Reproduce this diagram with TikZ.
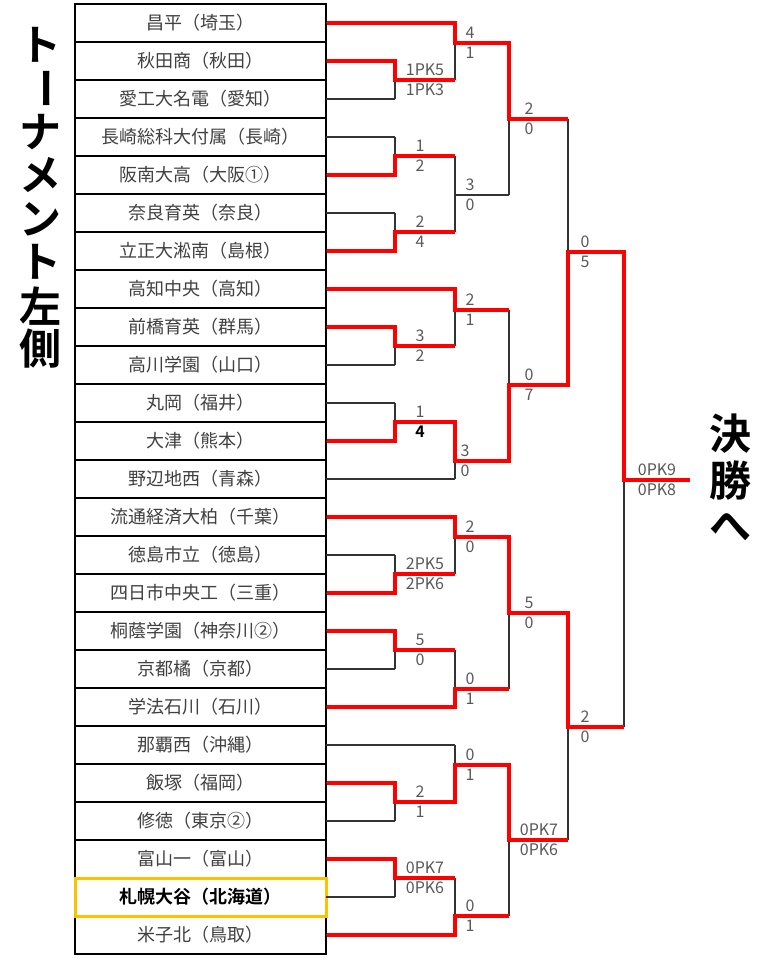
\documentclass[tikz,border=0pt]{standalone}
\usepackage{fontspec}
\setmainfont{Noto Sans CJK JP}
\newfontfamily\jpbold{Noto Sans CJK JP Bold}
\definecolor{hiorange}{HTML}{FFC000}
\begin{document}
\begin{tikzpicture}[x=1pt,y=-1pt,
  team/.style={draw=black,line width=1.3pt,minimum width=251pt,minimum height=38pt,inner sep=0pt,text=black!75,font=\fontsize{18}{20}\selectfont},
  hilite/.style={draw=hiorange,line width=3pt,font=\jpbold\fontsize{18}{20}\selectfont,text=black},
  skel/.style={line width=1.2pt,black!80},
  win/.style={line width=3.6pt,red,line join=miter},
  sc/.style={inner sep=0pt,text=black!65,font=\fontsize{16}{18}\selectfont},
  ttl/.style={inner sep=0pt,font=\jpbold\fontsize{42}{44}\selectfont}]
\useasboundingbox (0,0) rectangle (768,960);
\fill[white] (0,0) rectangle (768,960);
% teams
\foreach \n/\t [count=\k] in {昌平（埼玉）,秋田商（秋田）,愛工大名電（愛知）,長崎総科大付属（長崎）,阪南大高（大阪①）,奈良育英（奈良）,立正大淞南（島根）,高知中央（高知）,前橋育英（群馬）,高川学園（山口）,丸岡（福井）,大津（熊本）,野辺地西（青森）,流通経済大柏（千葉）,徳島市立（徳島）,四日市中央工（三重）,桐蔭学園（神奈川②）,京都橘（京都）,学法石川（石川）,那覇西（沖縄）,飯塚（福岡）,修徳（東京②）,富山一（富山）}
  {\node[team] (t\k) at (200.5,{23+38*(\k-1)}) {\n};}
\node[team] (t25) at (200.5,935) {米子北（鳥取）};
\node[team,hilite] (t24) at (200.5,897) {札幌大谷（北海道）};
% skeleton
\foreach \y/\x in {23/455,61/395,99/395,137/395,175/395,213/395,251/395,289/455,327/395,365/395,403/395,441/395,479/455,517/455,555/395,593/395,631/395,669/395,707/455,745/455,783/395,821/395,859/395,897/395,935/455}
  \draw[skel] (326,\y) -- (\x,\y);
\foreach \a/\b/\m in {61/99/80,137/175/156,213/251/232,327/365/346,403/441/422,555/593/574,631/669/650,783/821/802,859/897/878}
  \draw[skel] (395,\a) -- (395,\b) (395,\m) -- (455,\m);
\foreach \a/\b/\m in {23/80/43,156/232/195,289/346/310,422/479/461,517/574/537,650/707/689,745/802/765,878/935/916}
  \draw[skel] (455,\a) -- (455,\b) (455,\m) -- (509,\m);
\foreach \a/\b/\m in {43/195/119,310/461/385,537/689/613,765/916/840}
  \draw[skel] (509,\a) -- (509,\b) (509,\m) -- (568,\m);
\foreach \a/\b/\m in {119/385/252,613/840/727}
  \draw[skel] (568,\a) -- (568,\b) (568,\m) -- (624,\m);
\draw[skel] (624,252) -- (624,727);
% winners
\draw[win] (t1.east) -- (455,23) -- (455,43) -- (509,43) -- (509,119) -- (568,119);
\draw[win] (t2.east) -- (395,61) -- (395,80) -- (455,80);
\draw[win] (t5.east) -- (395,175) -- (395,156) -- (455,156);
\draw[win] (t7.east) -- (395,251) -- (395,232) -- (455,232);
\draw[win] (t8.east) -- (455,289) -- (455,310) -- (509,310);
\draw[win] (t9.east) -- (395,327) -- (395,346) -- (455,346);
\draw[win] (t12.east) -- (395,441) -- (395,422) -- (455,422) -- (455,461) -- (509,461) -- (509,385) -- (568,385) -- (568,252) -- (624,252) -- (624,480) -- (690,480);
\draw[win] (t14.east) -- (455,517) -- (455,537) -- (509,537) -- (509,613) -- (568,613) -- (568,727) -- (624,727);
\draw[win] (t16.east) -- (395,593) -- (395,574) -- (455,574);
\draw[win] (t17.east) -- (395,631) -- (395,650) -- (455,650);
\draw[win] (t19.east) -- (455,707) -- (455,689) -- (509,689);
\draw[win] (t21.east) -- (395,783) -- (395,802) -- (455,802) -- (455,765) -- (509,765) -- (509,840) -- (568,840);
\draw[win] (t23.east) -- (395,859) -- (395,878) -- (455,878);
\draw[win] (t25.east) -- (455,935) -- (455,916) -- (509,916);
% scores
\foreach \x/\m/\a/\b [count=\i] in {425/80/1PK5/1PK3,420/156/1/2,420/232/2/4,420/346/3/2,425/574/2PK5/2PK6,420/650/5/0,420/802/2/1,425/878/0PK7/0PK6,
  470/43/4/1,470/195/3/0,470/310/2/1,465/461/3/0,470/537/2/0,470/689/0/1,470/765/0/1,470/916/0/1,
  529/119/2/0,529/385/0/7,529/613/5/0,539/840/0PK7/0PK6,585/252/0/5,585/727/2/0,657/480/0PK9/0PK8}
  {\node[sc] (sa\i) at (\x,\m-10) {\a}; \node[sc] (sb\i) at (\x,\m+10) {\b};}
\node[sc] (se1) at (420,412) {1};
\node[sc,text=black,font=\jpbold\fontsize{16}{18}\selectfont] (se2) at (420,432) {4};
% titles
\foreach \c/\y [count=\i] in {ト/45,ナ/132,メ/175,ン/219,ト/262,左/306,側/349}
  {\node[ttl] (L\i) at (40,\y) {\c};}
\node[ttl,rotate=-90] (Lbar) at (40,89) {ー};
\foreach \c/\y [count=\i] in {決/434,勝/481,へ/527}
  {\node[ttl] (R\i) at (730,\y) {\c};}
\end{tikzpicture}
\end{document}
